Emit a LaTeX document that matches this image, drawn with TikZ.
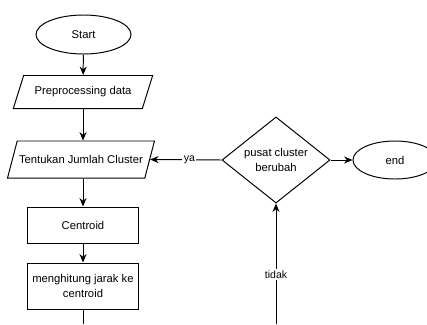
\documentclass[tikz,border=0pt]{standalone}
\usepackage{fontspec}
\setmainfont{Liberation Sans}
\usetikzlibrary{shapes.geometric,arrows.meta}
\begin{document}
\begin{tikzpicture}[x=0.025cm, y=-0.025cm, line width=0.7pt,
		font=\fontsize{8}{10}\selectfont,
		flow/.style={-{Stealth[length=6pt,width=5pt]}},
		terminal/.style={draw, ellipse, inner sep=0pt},
		databox/.style={draw, trapezium, trapezium stretches=true, inner xsep=0pt},
		procbox/.style={draw, rectangle, minimum width=2.775cm, align=center},
		decision/.style={draw, diamond, inner sep=0pt, minimum width=2.7cm, minimum height=1.875cm, align=center},
		edgetext/.style={fill=white, inner sep=1pt, font=\fontsize{7.5}{9}\selectfont}]
		\useasboundingbox (0,0) rectangle (427,324);
		\clip (0,0) rectangle (427,324);
		\node[terminal, minimum width=2.375cm, minimum height=0.975cm] (start) at (83.5,34.5) {Start};
		\node[databox, trapezium left angle=67, trapezium right angle=113, minimum width=3.5cm, minimum height=0.825cm] (prep) at (83,92) {Preprocessing data};
		\node[databox, trapezium left angle=62, trapezium right angle=118, minimum width=3.675cm, minimum height=0.925cm] (cluster) at (81,159.5) {Tentukan Jumlah Cluster};
		\node[procbox, minimum height=0.9cm] (centroid) at (83,225) {Centroid};
		\node[procbox, minimum height=1.15cm] (jarak) at (83,286) {menghitung jarak ke\\centroid};
		\node[decision] (ubah) at (276,160) {pusat cluster\\berubah};
		\node[terminal, minimum width=2.1cm, minimum height=0.95cm] (end) at (395,160) {end};
		\coordinate (jarakout) at (83,324);
		\coordinate (tidakin) at (276,324);
		\draw[flow] (start) -- (prep);
		\draw[flow] (prep.south) -- (prep.south |- cluster.north);
		\draw[flow] (cluster.south -| centroid.north) -- (centroid.north);
		\draw[flow] (centroid) -- (jarak);
		\draw (jarak) -- (jarakout);
		\draw[flow] (tidakin) -- (ubah.south) node[edgetext, pos=0.41] {tidak};
		\draw[flow] (ubah.west) -- (cluster.east) node[edgetext, pos=0.45] {ya};
		\draw[flow] (ubah.east) -- (end.west);
	\end{tikzpicture}
\end{document}
